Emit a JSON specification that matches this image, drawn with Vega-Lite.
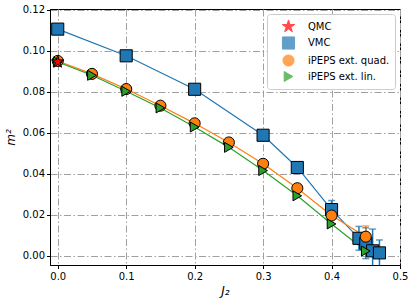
{
  "$schema": "https://vega.github.io/schema/vega-lite/v6.json",
  "autosize": "none",
  "width": 350,
  "height": 256,
  "padding": {"left": 50, "top": 9, "right": 15, "bottom": 38},
  "background": "white",
  "config": {
    "font": "DejaVu Sans",
    "view": {"stroke": "black", "strokeWidth": 1},
    "axis": {
      "domainColor": "black",
      "tickColor": "black",
      "labelColor": "black",
      "titleColor": "black",
      "labelFont": "DejaVu Sans",
      "titleFont": "DejaVu Sans",
      "labelFontSize": 10,
      "titleFontSize": 12,
      "titleFontWeight": "normal",
      "tickSize": 3.5,
      "gridColor": "#a0a0a0",
      "gridDash": [7, 2.5, 1.5, 2.5],
      "gridWidth": 1,
      "gridOpacity": 1
    },
    "legend": {
      "symbolStrokeColor": "black",
      "symbolStrokeWidth": 1
    }
  },
  "data": {
    "values": [
      {"series": "VMC", "J2": 0.0, "m2": 0.1105, "err": 0},
      {"series": "VMC", "J2": 0.1, "m2": 0.0975, "err": 0},
      {"series": "VMC", "J2": 0.2, "m2": 0.0812, "err": 0},
      {"series": "VMC", "J2": 0.3, "m2": 0.0588, "err": 0},
      {"series": "VMC", "J2": 0.35, "m2": 0.0431, "err": 0},
      {"series": "VMC", "J2": 0.4, "m2": 0.0226, "err": 0.0044},
      {"series": "VMC", "J2": 0.44, "m2": 0.0086, "err": 0.0058},
      {"series": "VMC", "J2": 0.45, "m2": 0.0062, "err": 0.0075},
      {"series": "VMC", "J2": 0.46, "m2": 0.0025, "err": 0.0106},
      {"series": "VMC", "J2": 0.47, "m2": 0.0015, "err": 0.0063},
      {"series": "iPEPS ext. quad.", "J2": 0.0, "m2": 0.0950, "err": 0},
      {"series": "iPEPS ext. quad.", "J2": 0.05, "m2": 0.0887, "err": 0},
      {"series": "iPEPS ext. quad.", "J2": 0.1, "m2": 0.0813, "err": 0},
      {"series": "iPEPS ext. quad.", "J2": 0.15, "m2": 0.0732, "err": 0},
      {"series": "iPEPS ext. quad.", "J2": 0.2, "m2": 0.0646, "err": 0},
      {"series": "iPEPS ext. quad.", "J2": 0.25, "m2": 0.0553, "err": 0},
      {"series": "iPEPS ext. quad.", "J2": 0.3, "m2": 0.0449, "err": 0},
      {"series": "iPEPS ext. quad.", "J2": 0.35, "m2": 0.0330, "err": 0},
      {"series": "iPEPS ext. quad.", "J2": 0.4, "m2": 0.0197, "err": 0},
      {"series": "iPEPS ext. quad.", "J2": 0.45, "m2": 0.0094, "err": 0.0052},
      {"series": "iPEPS ext. lin.", "J2": 0.0, "m2": 0.0945, "err": 0},
      {"series": "iPEPS ext. lin.", "J2": 0.05, "m2": 0.0880, "err": 0},
      {"series": "iPEPS ext. lin.", "J2": 0.1, "m2": 0.0802, "err": 0},
      {"series": "iPEPS ext. lin.", "J2": 0.15, "m2": 0.0721, "err": 0},
      {"series": "iPEPS ext. lin.", "J2": 0.2, "m2": 0.0628, "err": 0},
      {"series": "iPEPS ext. lin.", "J2": 0.25, "m2": 0.0529, "err": 0},
      {"series": "iPEPS ext. lin.", "J2": 0.3, "m2": 0.0416, "err": 0},
      {"series": "iPEPS ext. lin.", "J2": 0.35, "m2": 0.0293, "err": 0},
      {"series": "iPEPS ext. lin.", "J2": 0.4, "m2": 0.0156, "err": 0},
      {"series": "iPEPS ext. lin.", "J2": 0.45, "m2": 0.0024, "err": 0},
      {"series": "QMC", "J2": 0.0, "m2": 0.0945, "err": 0}
    ]
  },
  "encoding": {
    "x": {
      "field": "J2", "type": "quantitative",
      "scale": {"domain": [-0.0113, 0.5], "nice": false, "zero": false},
      "axis": {"title": "J₂", "titleFontStyle": "italic", "values": [0, 0.1, 0.2, 0.3, 0.4, 0.5], "format": ".1f", "grid": true, "labelPadding": 3, "titlePadding": 4, "labelFlush": false}
    },
    "y": {
      "field": "m2", "type": "quantitative",
      "scale": {"domain": [-0.0044, 0.1203], "nice": false, "zero": false},
      "axis": {"title": "m²", "titleFontStyle": "italic", "values": [0, 0.02, 0.04, 0.06, 0.08, 0.1, 0.12], "format": ".2f", "grid": true, "labelPadding": 2, "titlePadding": 5, "labelFlush": false}
    },
    "color": {
      "field": "series", "type": "nominal",
      "scale": {"domain": ["QMC", "VMC", "iPEPS ext. quad.", "iPEPS ext. lin."], "range": ["#ff0000", "#1f77b4", "#ff7f0e", "#2ca02c"]},
      "legend": {
        "title": null, "orient": "top-right", "offset": 5, "padding": 5,
        "fillColor": "white", "strokeColor": "#cccccc", "cornerRadius": 3,
        "labelFont": "DejaVu Sans", "labelFontSize": 10, "labelColor": "black",
        "symbolSize": 90, "symbolOffset": 9, "rowPadding": 0, "labelOffset": 12,
        "symbolStrokeColor": "black", "symbolStrokeWidth": 1
      }
    }
  },
  "layer": [
    {
      "transform": [{"filter": "datum.err > 0"}, {"calculate": "datum.m2 - datum.err", "as": "lo"}, {"calculate": "datum.m2 + datum.err", "as": "hi"}],
      "mark": {"type": "rule", "strokeWidth": 1.5, "clip": true},
      "encoding": {"y": {"field": "lo", "type": "quantitative"}, "y2": {"field": "hi"}}
    },
    {
      "transform": [{"filter": "datum.err > 0"}, {"calculate": "datum.m2 + datum.err", "as": "hi"}],
      "mark": {"type": "tick", "orient": "horizontal", "size": 7, "thickness": 1.5, "clip": true},
      "encoding": {"y": {"field": "hi", "type": "quantitative"}}
    },
    {
      "transform": [{"filter": "datum.err > 0"}, {"calculate": "datum.m2 - datum.err", "as": "lo"}],
      "mark": {"type": "tick", "orient": "horizontal", "size": 7, "thickness": 1.5, "clip": true},
      "encoding": {"y": {"field": "lo", "type": "quantitative"}}
    },
    {
      "transform": [{"filter": "datum.series != 'QMC'"}],
      "mark": {"type": "line", "strokeWidth": 1.2},
      "encoding": {"detail": {"field": "series"}}
    },
    {
      "mark": {"type": "point", "filled": true, "opacity": 1, "stroke": "black", "strokeWidth": 1},
      "encoding": {
        "shape": {
          "field": "series", "type": "nominal",
          "scale": {"domain": ["QMC", "VMC", "iPEPS ext. quad.", "iPEPS ext. lin."],
            "range": ["M0,-1L0.2245,-0.309L0.951,-0.309L0.363,0.118L0.588,0.809L0,0.382L-0.588,0.809L-0.363,0.118L-0.951,-0.309L-0.2245,-0.309Z", "square", "circle", "triangle-right"]},
          "legend": {"symbolStrokeColor": "black", "symbolStrokeWidth": 1}
        },
        "size": {
          "field": "series", "type": "nominal", "legend": null,
          "scale": {"domain": ["QMC", "VMC", "iPEPS ext. quad.", "iPEPS ext. lin."], "range": [170, 100, 85, 85]}
        }
      }
    }
  ]
}
